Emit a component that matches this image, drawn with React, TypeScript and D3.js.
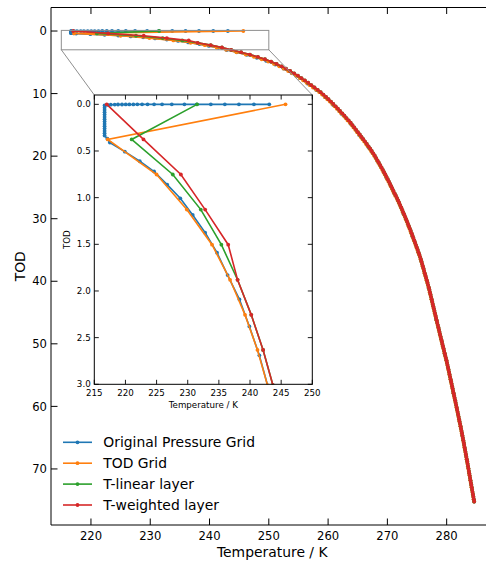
import React from 'react';
import * as d3 from 'd3';

const W = 486;
const H = 563;

const seriesNames = ['Original Pressure Grid', 'TOD Grid', 'T-linear layer', 'T-weighted layer'];
const seriesColors = ['#1f77b4', '#ff7f0e', '#2ca02c', '#d62728'];

const mainTicksX = [220, 230, 240, 250, 260, 270, 280];
const mainTicksY = [0, 10, 20, 30, 40, 50, 60, 70];
const insetTicksX = [215, 220, 225, 230, 235, 240, 245, 250];
const insetTicksY = [0, 0.5, 1.0, 1.5, 2.0, 2.5, 3.0];

// Original pressure grid (temperature / K and TOD)
const origT = [
  243.09, 240.63, 238.22, 235.96, 233.71, 231.46, 229.47, 227.44, 225.88, 224.6,
  223.55, 222.67, 221.91, 221.27, 220.63, 220.05, 219.45, 218.81, 218.28, 217.64, 217.12,
  216.65, 216.65, 216.65, 216.65, 216.65, 216.65, 216.65, 216.65, 216.65, 216.65, 216.65, 216.65, 216.65, 216.65,
  217.1, 217.5, 219.9, 222.3, 224.6, 226.7, 228.8, 230.8, 232.8, 234.7, 236.4, 238.3, 239.9, 241.5,
  242.9, 244.6, 246.3, 247.98, 249.58, 251.08, 252.48, 253.84, 255.22, 256.58, 258.02, 259.47,
  260.86, 262.29, 263.8, 265.24, 266.82, 268.33, 269.77, 271.23, 272.74, 274.2, 275.67, 276.97,
  278.23, 279.66, 281.12, 282.64, 284.15, 284.61,
];
const origTOD = [
  0, 0, 0, 0, 0, 0, 0, 0, 0, 0,
  0, 0, 0, 0.001, 0.001, 0.001, 0.002, 0.002, 0.003, 0.004, 0.006,
  0.012, 0.036, 0.06, 0.085, 0.11, 0.135, 0.16, 0.185, 0.21, 0.235, 0.26, 0.285, 0.31, 0.335,
  0.368, 0.41, 0.507, 0.61, 0.72, 0.86, 1.007, 1.185, 1.375, 1.59, 1.83, 2.09, 2.38, 2.69,
  3.03, 3.4, 3.81, 4.27, 4.78, 5.35, 5.99, 6.71, 7.52, 8.42, 9.43, 10.56,
  11.83, 13.25, 14.84, 16.62, 18.61, 20.85, 23.35, 26.15, 29.29, 32.8, 36.74, 41.15,
  46.09, 51.62, 57.81, 64.75, 72.52, 75.2,
];

// Uniform TOD grid spacing
const todStep = 0.376;

// Temperature on the TOD grid
const todGridT = [
  245.7, 217.15, 225.0, 229.85, 233.9, 236.8, 239.2, 241.2, 242.8, 244.53,
  246.11, 247.52, 248.8, 249.9, 250.88, 251.76, 252.53, 253.26, 253.94, 254.6,
  255.22, 255.8, 256.37, 256.91, 257.44, 257.98, 258.52, 258.98, 259.43, 259.86,
  260.28, 260.68, 261.08, 261.46, 261.83, 262.19, 262.59, 262.93, 263.27, 263.64,
  263.96, 264.26, 264.57, 264.88, 265.18, 265.49, 265.79, 266.08, 266.38, 266.67,
  266.97, 267.23, 267.49, 267.75, 267.99, 268.23, 268.45, 268.67, 268.9, 269.12,
  269.34, 269.54, 269.75, 269.95, 270.16, 270.36, 270.55, 270.74, 270.93, 271.12,
  271.31, 271.54, 271.72, 271.9, 272.07, 272.25, 272.42, 272.59, 272.75, 272.92,
  273.09, 273.25, 273.4, 273.56, 273.71, 273.87, 274.02, 274.17, 274.31, 274.46,
  274.61, 274.75, 274.89, 275.04, 275.18, 275.32, 275.45, 275.59, 275.7, 275.82,
  275.93, 276.04, 276.15, 276.26, 276.37, 276.49, 276.6, 276.71, 276.82, 276.94,
  277.04, 277.13, 277.23, 277.32, 277.42, 277.51, 277.6, 277.7, 277.79, 277.89,
  277.98, 278.08, 278.17, 278.27, 278.36, 278.46, 278.56, 278.65, 278.75, 278.84,
  278.94, 279.04, 279.14, 279.23, 279.33, 279.43, 279.53, 279.63, 279.72, 279.82,
  279.92, 280.01, 280.1, 280.19, 280.28, 280.36, 280.45, 280.53, 280.62, 280.71,
  280.79, 280.88, 280.96, 281.05, 281.13, 281.22, 281.31, 281.39, 281.48, 281.56,
  281.65, 281.73, 281.81, 281.9, 281.98, 282.06, 282.14, 282.22, 282.31, 282.39,
  282.47, 282.55, 282.62, 282.7, 282.77, 282.85, 282.92, 282.99, 283.07, 283.14,
  283.21, 283.28, 283.36, 283.43, 283.5, 283.57, 283.64, 283.71, 283.77, 283.85,
  283.91, 283.98, 284.05, 284.12, 284.19, 284.26, 284.33, 284.4, 284.47, 284.54,
  284.61,
];

// T-weighted layer temperature on the TOD grid
const weightedT = [
  217.0, 222.9, 228.9, 232.8, 236.5, 238.0, 240.2, 242.1, 243.67, 245.32,
  246.82, 248.16, 249.35, 250.39, 251.32, 252.15, 252.9, 253.6, 254.27, 254.91,
  255.51, 256.09, 256.64, 257.18, 257.71, 258.25, 258.75, 259.21, 259.65, 260.07,
  260.48, 260.88, 261.27, 261.65, 262.01, 262.39, 262.76, 263.1, 263.46, 263.8,
  264.11, 264.42, 264.73, 265.03, 265.34, 265.64, 265.94, 266.23, 266.53, 266.82,
  267.1, 267.36, 267.62, 267.87, 268.11, 268.34, 268.56, 268.79, 269.01, 269.23,
  269.44, 269.65, 269.85, 270.06, 270.26, 270.46, 270.65, 270.84, 271.03, 271.22,
  271.43, 271.63, 271.81, 271.99, 272.16, 272.34, 272.51, 272.67, 272.84, 273.01,
  273.17, 273.33, 273.48, 273.64, 273.79, 273.95, 274.1, 274.24, 274.39, 274.54,
  274.68, 274.82, 274.97, 275.11, 275.25, 275.39, 275.52, 275.65, 275.76, 275.88,
  275.99, 276.1, 276.21, 276.32, 276.43, 276.55, 276.66, 276.77, 276.88, 276.99,
  277.09, 277.18, 277.28, 277.37, 277.47, 277.56, 277.65, 277.75, 277.84, 277.94,
  278.03, 278.13, 278.22, 278.32, 278.41, 278.51, 278.61, 278.7, 278.8, 278.89,
  278.99, 279.09, 279.19, 279.28, 279.38, 279.48, 279.58, 279.68, 279.77, 279.87,
  279.97, 280.06, 280.15, 280.24, 280.32, 280.41, 280.49, 280.58, 280.67, 280.75,
  280.84, 280.92, 281.01, 281.09, 281.18, 281.27, 281.35, 281.44, 281.52, 281.61,
  281.69, 281.77, 281.86, 281.94, 282.02, 282.1, 282.18, 282.27, 282.35, 282.43,
  282.51, 282.59, 282.66, 282.74, 282.81, 282.89, 282.96, 283.03, 283.11, 283.18,
  283.25, 283.32, 283.4, 283.47, 283.54, 283.61, 283.68, 283.74, 283.81, 283.88,
  283.95, 284.02, 284.09, 284.16, 284.23, 284.3, 284.37, 284.44, 284.51, 284.58,
  284.65,
];

// T-linear layer: differs from the weighted layer only in the first levels
const linearHeadT = [231.5, 221.0, 227.6, 232.1, 235.4];

type Pt = { t: number; tod: number };

const FONT = 'DejaVu Sans, sans-serif';

export default function App() {
  const mx = d3.scaleLinear().domain([213.26, 287.9]).range([51, 493.5]);
  const my = d3.scaleLinear().domain([-3.76, 78.96]).range([7.5, 525]);
  const ix = d3.scaleLinear().domain([215, 250]).range([94.3, 312.3]);
  const iy = d3.scaleLinear().domain([-0.1, 3.0]).range([95, 384.3]);

  const gridTOD = todGridT.map((_, k) => k * todStep);
  const linearT = linearHeadT.concat(weightedT.slice(linearHeadT.length));

  const data: Pt[][] = [
    origT.map((t, i) => ({ t, tod: origTOD[i] })),
    todGridT.map((t, i) => ({ t, tod: gridTOD[i] })),
    linearT.map((t, i) => ({ t, tod: gridTOD[i] })),
    weightedT.map((t, i) => ({ t, tod: gridTOD[i] })),
  ];

  const renderSeries = (sx: any, sy: any, clip: string, key: string) => (
    <g clipPath={`url(#${clip})`}>
      {data.map((pts, si) => {
        const line = d3
          .line<Pt>()
          .x((d) => sx(d.t))
          .y((d) => sy(d.tod));
        return (
          <g key={`${key}-${si}`}>
            <path d={line(pts) || ''} fill="none" stroke={seriesColors[si]} strokeWidth={1.6} />
            {pts.map((p, i) => (
              <circle key={i} cx={sx(p.t)} cy={sy(p.tod)} r={1.9} fill={seriesColors[si]} />
            ))}
          </g>
        );
      })}
    </g>
  );

  const [mx0, mx1] = mx.range();
  const [my0, my1] = my.range();
  const [ix0, ix1] = ix.range();
  const [iy0, iy1] = iy.range();

  const rectX0 = mx(ix.domain()[0]);
  const rectX1 = mx(ix.domain()[1]);
  const rectY0 = my(iy.domain()[0]);
  const rectY1 = my(iy.domain()[1]);

  const mainTickLen = 6.5;
  const insetTickLen = 4.5;

  return (
    <svg
      width={W}
      height={H}
      style={{ position: 'absolute', left: 0, top: 0, background: '#fff' }}
      fontFamily={FONT}
    >
      <defs>
        <clipPath id="clipMain">
          <rect x={mx0} y={my0} width={mx1 - mx0} height={my1 - my0} />
        </clipPath>
        <clipPath id="clipInset">
          <rect x={ix0} y={iy0} width={ix1 - ix0} height={iy1 - iy0} />
        </clipPath>
      </defs>
      <rect x={0} y={0} width={W} height={H} fill="#fff" />

      {/* main axes data */}
      {renderSeries(mx, my, 'clipMain', 'main')}

      {/* main spines */}
      <g stroke="#000" strokeWidth={1} fill="none">
        <line x1={mx0} y1={my0} x2={mx0} y2={my1} />
        <line x1={mx0} y1={my1} x2={mx1} y2={my1} />
        <line x1={mx0} y1={my0} x2={mx1} y2={my0} />
        <line x1={mx1} y1={my0} x2={mx1} y2={my1} />
      </g>
      {/* main ticks */}
      <g stroke="#000" strokeWidth={1}>
        {mainTicksX.map((v) => (
          <g key={`mtx${v}`}>
            <line x1={mx(v)} x2={mx(v)} y1={my1} y2={my1 - mainTickLen} />
            <line x1={mx(v)} x2={mx(v)} y1={my0} y2={my0 + mainTickLen} />
          </g>
        ))}
        {mainTicksY.map((v) => (
          <line key={`mty${v}`} x1={mx0} x2={mx0 + mainTickLen} y1={my(v)} y2={my(v)} />
        ))}
      </g>
      <g fontSize={11.6} fill="#000">
        {mainTicksX.map((v) => (
          <text key={`mlx${v}`} x={mx(v)} y={my1 + 14.5} textAnchor="middle">
            {v}
          </text>
        ))}
        {mainTicksY.map((v) => (
          <text key={`mly${v}`} x={mx0 - 4} y={my(v) + 4.2} textAnchor="end">
            {v}
          </text>
        ))}
      </g>
      <text x={(mx0 + mx1) / 2} y={557} textAnchor="middle" fontSize={13.9}>
        Temperature / K
      </text>
      <text
        transform={`translate(25,${(my0 + my1) / 2}) rotate(-90)`}
        textAnchor="middle"
        fontSize={13.9}
      >
        TOD
      </text>

      {/* inset indicator */}
      <g stroke="#8f8f8f" strokeWidth={1} fill="none">
        <rect x={rectX0} y={rectY0} width={rectX1 - rectX0} height={rectY1 - rectY0} />
        <line x1={rectX0} y1={rectY1} x2={ix0} y2={iy0} />
        <line x1={rectX1} y1={rectY1} x2={ix1} y2={iy0} />
      </g>

      {/* inset axes */}
      <rect x={ix0} y={iy0} width={ix1 - ix0} height={iy1 - iy0} fill="#fff" />
      {renderSeries(ix, iy, 'clipInset', 'inset')}
      <rect x={ix0} y={iy0} width={ix1 - ix0} height={iy1 - iy0} fill="none" stroke="#000" strokeWidth={1} />
      <g stroke="#000" strokeWidth={0.9}>
        {insetTicksX.map((v) => (
          <g key={`itx${v}`}>
            <line x1={ix(v)} x2={ix(v)} y1={iy1} y2={iy1 - insetTickLen} />
            <line x1={ix(v)} x2={ix(v)} y1={iy0} y2={iy0 + insetTickLen} />
          </g>
        ))}
        {insetTicksY.map((v) => (
          <g key={`ity${v}`}>
            <line x1={ix0} x2={ix0 + insetTickLen} y1={iy(v)} y2={iy(v)} />
            <line x1={ix1} x2={ix1 - insetTickLen} y1={iy(v)} y2={iy(v)} />
          </g>
        ))}
      </g>
      <g fontSize={8.7} fill="#000">
        {insetTicksX.map((v) => (
          <text key={`ilx${v}`} x={ix(v)} y={iy1 + 11.5} textAnchor="middle">
            {v}
          </text>
        ))}
        {insetTicksY.map((v) => (
          <text key={`ily${v}`} x={ix0 - 3.6} y={iy(v) + 3.1} textAnchor="end">
            {v.toFixed(1)}
          </text>
        ))}
      </g>
      <text x={(ix0 + ix1) / 2} y={408} textAnchor="middle" fontSize={8.7}>
        Temperature / K
      </text>
      <text
        transform={`translate(70,${(iy0 + iy1) / 2}) rotate(-90)`}
        textAnchor="middle"
        fontSize={8.7}
      >
        TOD
      </text>

      {/* legend */}
      <g>
        {seriesNames.map((name, i) => {
          const y = 442.3 + i * 20.9;
          return (
            <g key={name}>
              <line x1={63} x2={92} y1={y} y2={y} stroke={seriesColors[i]} strokeWidth={1.6} />
              <circle cx={77.5} cy={y} r={1.9} fill={seriesColors[i]} />
              <text x={103.3} y={y + 5} fontSize={13.9}>
                {name}
              </text>
            </g>
          );
        })}
      </g>
    </svg>
  );
}
